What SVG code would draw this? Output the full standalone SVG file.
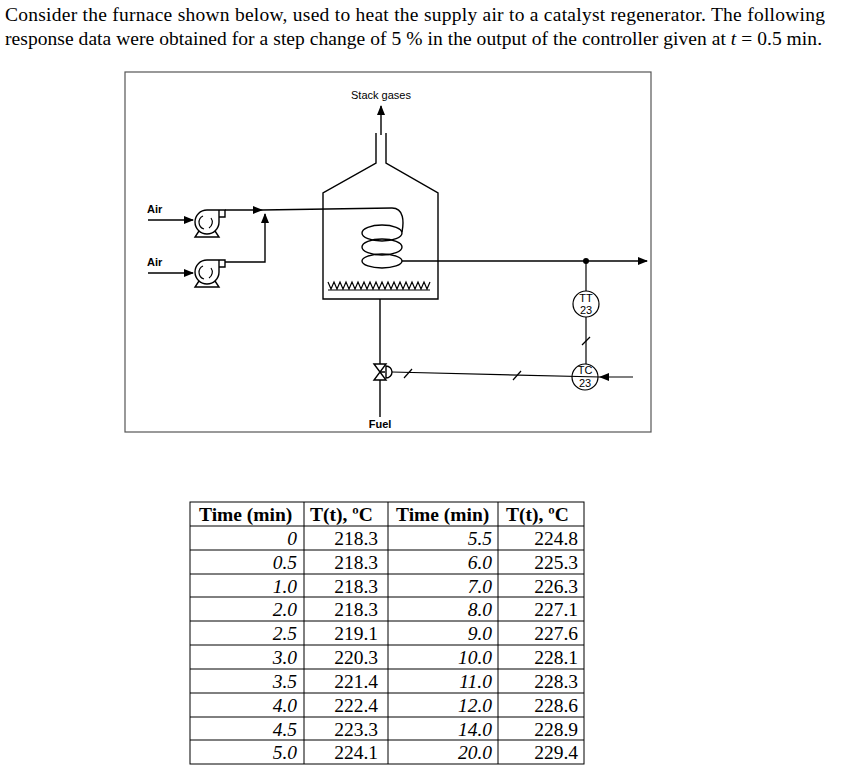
<svg xmlns="http://www.w3.org/2000/svg" width="853" height="776" viewBox="0 0 853 776">
<defs>
<marker id="ar" markerWidth="10" markerHeight="8" refX="9" refY="4" orient="auto" markerUnits="userSpaceOnUse"><path d="M0,0 L10,4 L0,8 z" fill="#000"/></marker>
<style>
.l{stroke:#000;stroke-width:1.4;fill:none}
.s{font-family:"Liberation Sans",Arial,sans-serif;font-size:11px}
.t{font-family:"Liberation Serif","Times New Roman",serif;font-size:19.5px}
.h{font-family:"Liberation Serif","Times New Roman",serif;font-size:19.5px;font-weight:bold}
.i{font-style:italic}
.g{stroke:#000;stroke-width:1.2;fill:none}
</style>
</defs>
<rect width="853" height="776" fill="#fff"/>
<text class="t" x="5" y="21" font-size="19.7" textLength="820">Consider the furnace shown below, used to heat the supply air to a catalyst regenerator. The following</text>
<text class="t" x="5" y="45" font-size="19.7" textLength="817">response data were obtained for a step change of 5 % in the output of the controller given at <tspan class="i">t</tspan> = 0.5 min.</text>
<rect x="125" y="72" width="526" height="360" fill="none" stroke="#555" stroke-width="1.2"/>
<g id="furnace">
<path class="l" d="M376,133 V163 L323,193 V299 H438 V193 L386,163 V133"/>
<path class="g" d="M328,282 l3,7 3,-7 3,7 3,-7 3,7 3,-7 3,7 3,-7 3,7 3,-7 3,7 3,-7 3,7 3,-7 3,7 3,-7 3,7 3,-7 3,7 3,-7 3,7 3,-7 3,7 3,-7 3,7 3,-7 3,7 3,-7 3,7 3,-7 3,7 3,-7 3,7 3,-7 M328,290 H430"/>
<path class="l" d="M392,208 C404,208 404,222 402,232"/>
<ellipse class="l" cx="382" cy="233" rx="20" ry="8"/>
<ellipse class="l" cx="382" cy="247" rx="20" ry="8"/>
<ellipse class="l" cx="382" cy="261" rx="20" ry="7"/>
<text class="s" x="381" y="99" text-anchor="middle">Stack gases</text>
<line class="l" x1="381" y1="135" x2="381" y2="106" marker-end="url(#ar)"/>
</g>
<g id="pump1">
<path class="l" d="M207,210 A12,12 0 1,0 219,222 V210 Z M219,210 H225 V217 H219"/>
<path class="g" d="M203,216 A7,7 0 0,0 204,229 M211,218 A7,7 0 0,1 209,228"/>
<path class="l" d="M199,231 L195,237 H219 L215,231"/>
<text class="s" x="147" y="213" font-weight="bold" font-size="10">Air</text>
</g>
<g id="pump2">
<path class="l" d="M207,260 A12,12 0 1,0 219,272 V260 Z M219,260 H225 V267 H219"/>
<path class="g" d="M203,266 A7,7 0 0,0 204,279 M211,268 A7,7 0 0,1 209,278"/>
<path class="l" d="M199,281 L195,287 H219 L215,281"/>
<text class="s" x="147" y="266" font-weight="bold" font-size="10">Air</text>
</g>
<g id="valve">
<path class="l" d="M374,364 L386,380 H374 L386,364 z"/>
<path class="l" d="M380,372 H385 M386,366 A6,6 0 0,1 386,378 z"/>
<text class="s" x="380" y="428" text-anchor="middle" font-weight="bold" font-size="10">Fuel</text>
</g>
<g id="TT">
<circle class="g" cx="586" cy="304" r="13"/>
<text class="s" x="586" y="302" text-anchor="middle" font-size="10">TT</text>
<text class="s" x="586" y="314" text-anchor="middle" font-size="10">23</text>
</g>
<g id="TC">
<circle class="g" cx="585" cy="377" r="13"/>
<text class="s" x="585" y="374" text-anchor="middle" font-size="10">TC</text>
<text class="s" x="585" y="387" text-anchor="middle" font-size="10">23</text>
</g>
<g id="connectors">
<line class="l" x1="148" y1="220" x2="193" y2="220" marker-end="url(#ar)"/>
<line class="l" x1="148" y1="273" x2="193" y2="273" marker-end="url(#ar)"/>
<line class="l" x1="225" y1="210" x2="262" y2="210" marker-end="url(#ar)"/>
<line class="l" x1="262" y1="210" x2="392" y2="208"/>
<path class="l" d="M225,262 H265 V214" marker-end="url(#ar)"/>
<line class="l" x1="402" y1="261" x2="647" y2="261" marker-end="url(#ar)"/>
<circle cx="586" cy="261" r="3" fill="#000"/>
<line class="g" x1="586" y1="261" x2="586" y2="291"/>
<line class="g" x1="586" y1="317" x2="586" y2="364"/>
<line class="g" x1="582" y1="345" x2="590" y2="337"/>
<line class="l" x1="380" y1="299" x2="380" y2="364"/>
<line class="l" x1="380" y1="380" x2="380" y2="417"/>
<line class="g" x1="392" y1="372" x2="600" y2="377"/>
<line class="g" x1="404" y1="378" x2="412" y2="369"/>
<line class="g" x1="513" y1="380" x2="521" y2="371"/>
<line class="g" x1="633" y1="377" x2="600" y2="377" marker-end="url(#ar)"/>
</g>
<g id="table">
<rect x="190" y="502" width="394" height="262" fill="none" stroke="#000" stroke-width="1"/>
<g stroke="#000" stroke-width="1">
<line x1="304" y1="502" x2="304" y2="764"/><line x1="388" y1="502" x2="388" y2="764"/><line x1="498" y1="502" x2="498" y2="764"/>
<line x1="190" y1="526" x2="584" y2="526"/><line x1="190" y1="550" x2="584" y2="550"/><line x1="190" y1="574" x2="584" y2="574"/><line x1="190" y1="597" x2="584" y2="597"/><line x1="190" y1="621" x2="584" y2="621"/><line x1="190" y1="645" x2="584" y2="645"/><line x1="190" y1="669" x2="584" y2="669"/><line x1="190" y1="693" x2="584" y2="693"/><line x1="190" y1="717" x2="584" y2="717"/><line x1="190" y1="740" x2="584" y2="740"/>
</g>
<text class="h" x="199" y="521">Time (min)</text><text class="h" x="310" y="521">T(t), ºC</text><text class="h" x="396" y="521">Time (min)</text><text class="h" x="506" y="521">T(t), ºC</text>
<g class="t i" text-anchor="end">
<text x="297" y="545">0</text><text x="297" y="569">0.5</text><text x="297" y="593">1.0</text><text x="297" y="616">2.0</text><text x="297" y="640">2.5</text><text x="297" y="664">3.0</text><text x="297" y="688">3.5</text><text x="297" y="712">4.0</text><text x="297" y="736">4.5</text><text x="297" y="759">5.0</text>
<text x="492" y="545">5.5</text><text x="492" y="569">6.0</text><text x="492" y="593">7.0</text><text x="492" y="616">8.0</text><text x="492" y="640">9.0</text><text x="492" y="664">10.0</text><text x="492" y="688">11.0</text><text x="492" y="712">12.0</text><text x="492" y="736">14.0</text><text x="492" y="759">20.0</text>
</g>
<g class="t" text-anchor="end">
<text x="378" y="545">218.3</text><text x="378" y="569">218.3</text><text x="378" y="593">218.3</text><text x="378" y="616">218.3</text><text x="378" y="640">219.1</text><text x="378" y="664">220.3</text><text x="378" y="688">221.4</text><text x="378" y="712">222.4</text><text x="378" y="736">223.3</text><text x="378" y="759">224.1</text>
<text x="578" y="545">224.8</text><text x="578" y="569">225.3</text><text x="578" y="593">226.3</text><text x="578" y="616">227.1</text><text x="578" y="640">227.6</text><text x="578" y="664">228.1</text><text x="578" y="688">228.3</text><text x="578" y="712">228.6</text><text x="578" y="736">228.9</text><text x="578" y="759">229.4</text>
</g>
</g>
</svg>
